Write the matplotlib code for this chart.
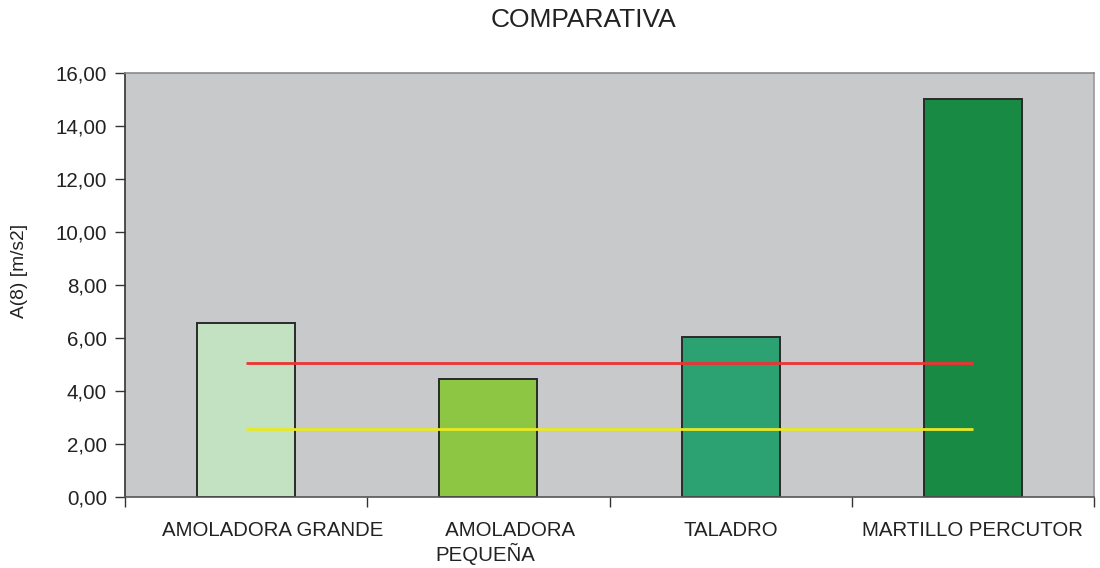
import matplotlib
matplotlib.use('Agg')
import matplotlib.pyplot as plt
import matplotlib.transforms as mtransforms
from matplotlib.ticker import FuncFormatter

# Datos
categorias = ['AMOLADORA GRANDE', '  AMOLADORA\nPEQUEÑA', 'TALADRO', 'MARTILLO PERCUTOR']
valores = [6.57, 4.45, 6.02, 15.03]
limite = [5.07, 5.07, 5.07, 5.07]
accion = [2.58, 2.58, 2.58, 2.58]
colores = ['#C3E2C2', '#8DC642', '#2CA171', '#188A44']

plt.rcParams['font.family'] = ['Liberation Sans', 'DejaVu Sans']

fig = plt.figure(figsize=(11, 5.68), dpi=100)
ax = fig.add_axes([125 / 1100, 71 / 568, 969 / 1100, 424 / 568])
ax.set_facecolor('#C8C9CB')

x = list(range(len(categorias)))
ax.bar(x, valores, width=0.405, color=colores, edgecolor='#2a2a2a', linewidth=1.4, zorder=2)
ax.plot(x, limite, color='#EE3333', linewidth=2.0, solid_capstyle='butt', zorder=3)
ax.plot(x, accion, color='#E8E825', linewidth=2.0, solid_capstyle='butt', zorder=3)

ax.set_xlim(-0.5, 3.5)
ax.set_ylim(0, 16)
ax.set_yticks(range(0, 17, 2))
ax.yaxis.set_major_formatter(FuncFormatter(lambda v, p: f'{v:.2f}'.replace('.', ',')))

# marcas en los límites de categoría, etiquetas en el centro
ax.set_xticks([-0.5, 0.5, 1.5, 2.5, 3.5])
ax.set_xticklabels([])
ax.set_xticks(x, minor=True)
ax.set_xticklabels(categorias, minor=True, fontsize=14.7, color='#222222',
                   multialignment='left', va='top')
ax.tick_params(axis='x', which='major', direction='out', length=7, width=1, color='#333333')
ax.tick_params(axis='x', which='minor', length=0, pad=17)
ax.tick_params(axis='y', direction='out', length=7, width=1, color='#333333',
               labelsize=14.8, labelcolor='#222222', pad=6)

# desplazamientos de las dos primeras etiquetas como en el original
etiquetas = ax.get_xticklabels(minor=True)
for lbl, dx in zip(etiquetas[:2], [0.27, 0.17]):
    lbl.set_transform(lbl.get_transform() + mtransforms.ScaledTranslation(dx, 0, fig.dpi_scale_trans))

ax.spines['left'].set_color('#333333')
ax.spines['bottom'].set_color('#555555')
ax.spines['top'].set_color('#8a8a8a')
ax.spines['right'].set_color('#9a9a9a')
for s in ax.spines.values():
    s.set_linewidth(1.2)

fig.text(583 / 1100, 1 - 20 / 568, 'COMPARATIVA', ha='center', va='center', fontsize=19, color='#222222')
fig.text(20 / 1100, 1 - 271 / 568, 'A(8) [m/s2]', rotation=90, ha='center', va='center',
         fontsize=13.8, color='#222222')

fig.savefig('out.png', dpi=100)
